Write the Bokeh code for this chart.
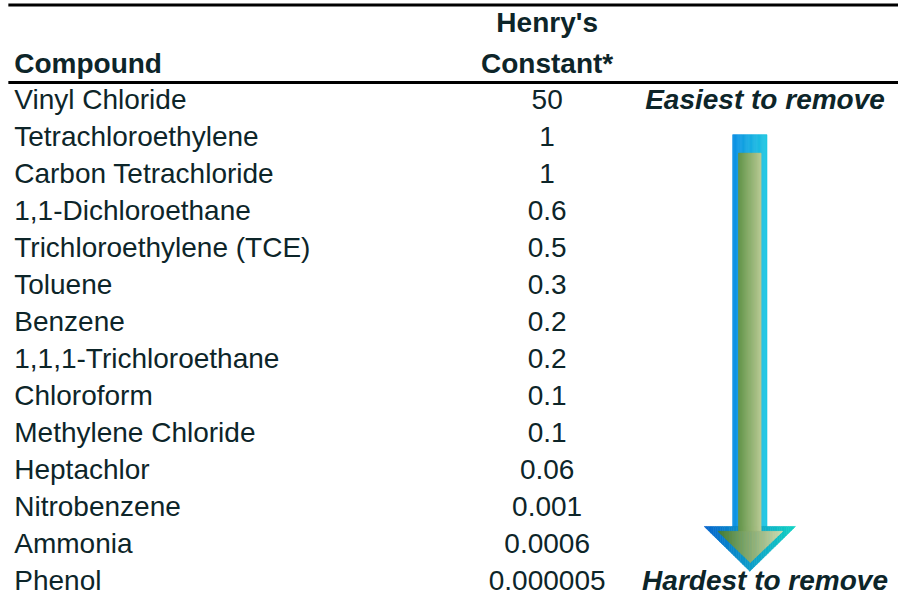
import numpy as np
from bokeh.plotting import figure
from bokeh.models import Range1d
from bokeh.core.properties import value
from bokeh.embed import file_html
from bokeh.resources import INLINE

# ---------------- data ----------------
compounds = [
    "Vinyl Chloride", "Tetrachloroethylene", "Carbon Tetrachloride",
    "1,1-Dichloroethane", "Trichloroethylene (TCE)", "Toluene", "Benzene",
    "1,1,1-Trichloroethane", "Chloroform", "Methylene Chloride",
    "Heptachlor", "Nitrobenzene", "Ammonia", "Phenol",
]
henry_constants = [
    "50", "1", "1", "0.6", "0.5", "0.3", "0.2",
    "0.2", "0.1", "0.1", "0.06", "0.001", "0.0006", "0.000005",
]
header_compound = "Compound"
header_constant = ["Henry's", "Constant*"]
note_top = "Easiest to remove"
note_bottom = "Hardest to remove"

# ---------------- layout (data units = reference pixels) ----------------
REF_W, REF_H = 915, 613
W, H = 898, 596
FONT = value("Liberation Sans")
FS = "28px"
TXT = "#0d2529"
TSHIFT = 10.0  # correction for how the text baseline is placed

ROW0, STEP = 111.5, 38.08
rows_y = ROW0 + STEP * np.arange(len(compounds)) - TSHIFT

X_NAME, X_NUM, X_NOTE = 14, 557, 779

p = figure(width=W, height=H, x_range=Range1d(0, REF_W), y_range=Range1d(REF_H, 0),
           output_backend="svg", toolbar_location=None, min_border=0,
           x_axis_location=None, y_axis_location=None)
p.grid.visible = False
p.outline_line_color = None
p.background_fill_color = "white"
p.border_fill_color = "white"

# horizontal rules
p.segment(x0=[8, 8], x1=[REF_W, REF_W], y0=[4.5, 84.3], y1=[4.5, 84.3],
          line_color="black", line_width=3)

# headers
p.text(x=[X_NAME], y=[75 - TSHIFT], text=[header_compound], text_font=FONT,
       text_font_size=FS, text_font_style="bold", text_color=TXT,
       text_align="left", text_baseline="alphabetic")
p.text(x=[X_NUM, X_NUM], y=[33 - TSHIFT, 75 - TSHIFT], text=header_constant,
       text_font=FONT, text_font_size=FS, text_font_style="bold", text_color=TXT,
       text_align="center", text_baseline="alphabetic")

# rows
p.text(x=X_NAME, y=rows_y, text=compounds, text_font=FONT, text_font_size=FS,
       text_color=TXT, text_align="left", text_baseline="alphabetic")
p.text(x=X_NUM, y=rows_y, text=henry_constants, text_font=FONT, text_font_size=FS,
       text_color=TXT, text_align="center", text_baseline="alphabetic")

# notes
p.text(x=[X_NOTE, X_NOTE], y=[rows_y[0], rows_y[-1]], text=[note_top, note_bottom],
       text_font=FONT, text_font_size=FS, text_font_style="bold italic",
       text_color=TXT, text_align="center", text_baseline="alphabetic")


# ---------------- gradient arrow ----------------
def lerp_color(c0, c1, t):
    return "#%02x%02x%02x" % tuple(int(round(a + (b - a) * t)) for a, b in zip(c0, c1))


def grad_rect(x0, x1, y0, y1, c0, c1, n=30):
    xs = np.linspace(x0, x1, n + 1)
    cols = [lerp_color(c0, c1, (i + 0.5) / n) for i in range(n)]
    p.quad(left=xs[:-1], right=xs[1:], top=y0, bottom=y1,
           fill_color=cols, line_color=cols, line_width=0.6)


def grad_tri(x0, x1, ybase, ytip, c0, c1, n=40):
    cx = (x0 + x1) / 2
    half = (x1 - x0) / 2
    xs = np.linspace(x0, x1, n + 1)

    def yb(x):
        return ybase + (ytip - ybase) * (1 - abs(x - cx) / half)

    px, py, cols = [], [], []
    for i in range(n):
        a, b = xs[i], xs[i + 1]
        px.append([a, b, b, a])
        py.append([ybase, ybase, yb(b), yb(a)])
        cols.append(lerp_color(c0, c1, (i + 0.5) / n))
    p.patches(xs=px, ys=py, fill_color=cols, line_color=cols, line_width=0.6)


# outer (blue) arrow
grad_rect(746, 781, 138, 541.5, (12, 143, 228), (32, 200, 226))
grad_tri(717, 810, 541, 587, (6, 100, 205), (18, 212, 196))
# inner (green) arrow
grad_rect(752, 775, 157, 546.5, (100, 148, 70), (188, 202, 145))
grad_tri(731, 797, 546, 578, (68, 124, 48), (210, 220, 178))

open("out.html", "w").write(file_html(p, INLINE))
